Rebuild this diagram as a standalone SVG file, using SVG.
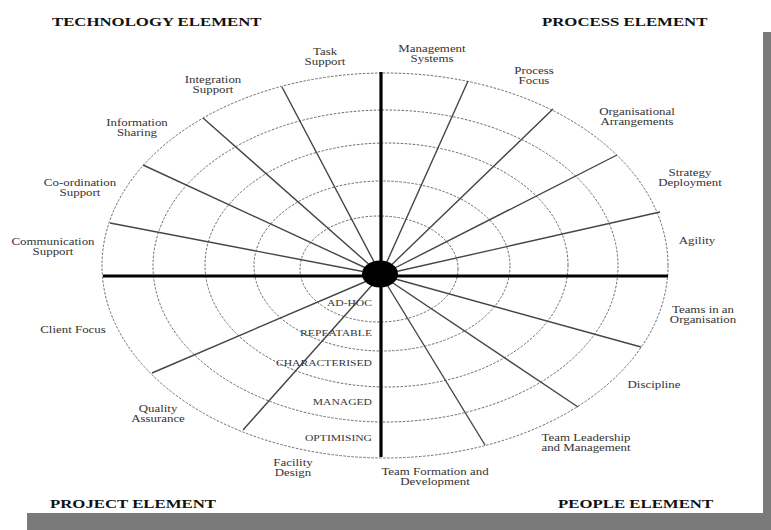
<svg xmlns="http://www.w3.org/2000/svg" width="771" height="530" viewBox="0 0 771 530">
<style>
.ring{fill:none;stroke:#6a6a6a;stroke-width:1;stroke-dasharray:2.5 1.5}
.spoke{stroke:#454545;stroke-width:1.4;fill:none}
.axis{stroke:#000;stroke-width:3.2;fill:none}
.lbl{font-family:"Liberation Serif","Times New Roman",serif;font-size:10px;fill:#333;text-anchor:middle}
.lvl{font-family:"Liberation Serif","Times New Roman",serif;font-size:9px;fill:#333;text-anchor:end}
.ttl{font-family:"Liberation Serif","Times New Roman",serif;font-size:13px;font-weight:bold;fill:#111}
</style>
<rect x="0" y="0" width="771" height="530" fill="#fff"/>
<rect id="shadow" x="27" y="32" width="744" height="498" fill="#7a7a7a"/>
<rect id="panel" x="0" y="0" width="763" height="513" fill="#fff"/>

<g id="rings">
<ellipse class="ring" cx="379" cy="269" rx="79" ry="53"/>
<ellipse class="ring" cx="382" cy="266" rx="128" ry="85"/>
<ellipse class="ring" cx="386.5" cy="265" rx="181.5" ry="122"/>
<ellipse class="ring" cx="385.5" cy="266" rx="232.5" ry="156"/>
<ellipse class="ring" cx="385" cy="265.5" rx="283" ry="192.5"/>
</g>

<g id="connectors">
<g id="spokes">
<line class="spoke" x1="381" y1="275" x2="282" y2="87"/>
<line class="spoke" x1="381" y1="275" x2="203" y2="118"/>
<line class="spoke" x1="381" y1="275" x2="143" y2="165"/>
<line class="spoke" x1="381" y1="275" x2="110" y2="223"/>
<line class="spoke" x1="381" y1="275" x2="468" y2="81"/>
<line class="spoke" x1="381" y1="275" x2="553" y2="109"/>
<line class="spoke" x1="381" y1="275" x2="617" y2="155"/>
<line class="spoke" x1="381" y1="275" x2="660" y2="212"/>
<line class="spoke" x1="381" y1="275" x2="641" y2="347"/>
<line class="spoke" x1="381" y1="275" x2="578" y2="407"/>
<line class="spoke" x1="381" y1="275" x2="485" y2="445"/>
<line class="spoke" x1="381" y1="275" x2="152" y2="373"/>
<line class="spoke" x1="381" y1="275" x2="243" y2="430"/>
</g>
<g id="axes">
<line class="axis" x1="381" y1="72" x2="381" y2="457"/>
<line class="axis" x1="103" y1="276" x2="668" y2="276"/>
</g>
</g>

<g id="hub"><ellipse cx="380" cy="274" rx="18" ry="13.5" fill="#000"/></g>

<g id="levels">
<text class="lvl" transform="translate(372 306) scale(1.29 1)">AD-HOC</text>
<text class="lvl" transform="translate(372 336) scale(1.29 1)">REPEATABLE</text>
<text class="lvl" transform="translate(372 366) scale(1.29 1)">CHARACTERISED</text>
<text class="lvl" transform="translate(372 405) scale(1.29 1)">MANAGED</text>
<text class="lvl" transform="translate(372 441) scale(1.29 1)">OPTIMISING</text>
</g>

<g id="technology">
<text class="ttl" transform="translate(52 26) scale(1.29 1)">TECHNOLOGY ELEMENT</text>
<text id="task" class="lbl" transform="translate(325 55) scale(1.29 1)"><tspan x="0">Task</tspan><tspan x="0" dy="10.5">Support</tspan></text>
<text id="integration" class="lbl" transform="translate(213 83) scale(1.29 1)"><tspan x="0">Integration</tspan><tspan x="0" dy="10.5">Support</tspan></text>
<text id="information" class="lbl" transform="translate(137 126) scale(1.29 1)"><tspan x="0">Information</tspan><tspan x="0" dy="10.5">Sharing</tspan></text>
<text id="coordination" class="lbl" transform="translate(80 186) scale(1.29 1)"><tspan x="0">Co-ordination</tspan><tspan x="0" dy="10.5">Support</tspan></text>
<text id="communication" class="lbl" transform="translate(53 245) scale(1.29 1)"><tspan x="0">Communication</tspan><tspan x="0" dy="10.5">Support</tspan></text>
</g>

<g id="process">
<text class="ttl" transform="translate(542 26) scale(1.29 1)">PROCESS ELEMENT</text>
<text id="management" class="lbl" transform="translate(432 52) scale(1.29 1)"><tspan x="0">Management</tspan><tspan x="0" dy="10.5">Systems</tspan></text>
<text id="processfocus" class="lbl" transform="translate(534 74) scale(1.29 1)"><tspan x="0">Process</tspan><tspan x="0" dy="10.5">Focus</tspan></text>
<text id="organisational" class="lbl" transform="translate(637 115) scale(1.29 1)"><tspan x="0">Organisational</tspan><tspan x="0" dy="10.5">Arrangements</tspan></text>
<text id="strategy" class="lbl" transform="translate(690 176) scale(1.29 1)"><tspan x="0">Strategy</tspan><tspan x="0" dy="10.5">Deployment</tspan></text>
<text id="agility" class="lbl" transform="translate(697 244) scale(1.29 1)">Agility</text>
</g>

<g id="people">
<text class="ttl" transform="translate(558 508) scale(1.29 1)">PEOPLE ELEMENT</text>
<text id="teams" class="lbl" transform="translate(703 313) scale(1.29 1)"><tspan x="0">Teams in an</tspan><tspan x="0" dy="10.5">Organisation</tspan></text>
<text id="discipline" class="lbl" transform="translate(654 388) scale(1.29 1)">Discipline</text>
<text id="leadership" class="lbl" transform="translate(586 441) scale(1.29 1)"><tspan x="0">Team Leadership</tspan><tspan x="0" dy="10.5">and Management</tspan></text>
<text id="formation" class="lbl" transform="translate(435 475) scale(1.29 1)"><tspan x="0">Team Formation and</tspan><tspan x="0" dy="10.5">Development</tspan></text>
</g>

<g id="project">
<text class="ttl" transform="translate(50 508) scale(1.29 1)">PROJECT ELEMENT</text>
<text id="client" class="lbl" transform="translate(73 333) scale(1.29 1)">Client Focus</text>
<text id="quality" class="lbl" transform="translate(158 412) scale(1.29 1)"><tspan x="0">Quality</tspan><tspan x="0" dy="10.5">Assurance</tspan></text>
<text id="facility" class="lbl" transform="translate(293 466) scale(1.29 1)"><tspan x="0">Facility</tspan><tspan x="0" dy="10.5">Design</tspan></text>
</g>
</svg>
